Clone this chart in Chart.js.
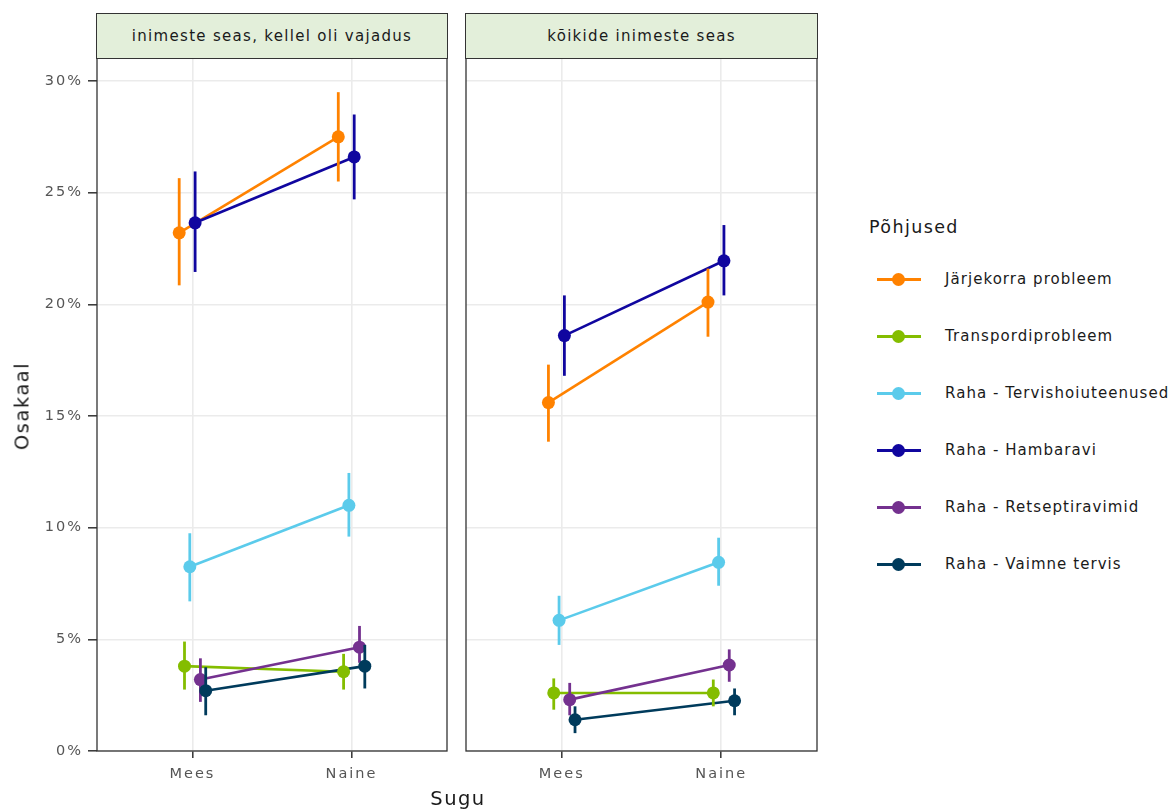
<!DOCTYPE html>
<html>
<head>
<meta charset="utf-8">
<script src="https://cdn.jsdelivr.net/npm/chart.js@4/dist/chart.umd.min.js"></script>
<style>
  html, body { margin:0; padding:0; background:#fff; width:1176px; height:812px; overflow:hidden; font-family:"DejaVu Sans", sans-serif; }
  .abs { position:absolute; }
  .strip { position:absolute; top:13px; height:44px; background:#E3EFDA; border:1px solid #333; box-sizing:content-box;
           display:flex; align-items:center; justify-content:center; font-size:15px; letter-spacing:1.3px; color:#1a1a1a; }
  .legTitle { position:absolute; left:869px; top:217px; font-size:17.5px; letter-spacing:1.4px; color:#1a1a1a; }
  .legItem { position:absolute; left:877px; height:20px; }
  .legItem .ln { position:absolute; left:0; top:8px; width:44px; height:3px; }
  .legItem .dt { position:absolute; left:15px; top:3px; width:13px; height:13px; border-radius:50%; }
  .legItem .tx { position:absolute; left:68px; top:0px; white-space:nowrap; font-size:15px; letter-spacing:1.05px; color:#1a1a1a; }
</style>
</head>
<body>
<div class="abs" id="c1wrap" style="left:0px; top:57px; width:449px; height:755px;"><canvas id="c1"></canvas></div>
<div class="abs" id="c2wrap" style="left:465px; top:57px; width:354px; height:755px;"><canvas id="c2"></canvas></div>
<div id="strips"></div>
<div class="abs" style="left:22px; top:406px; transform:translate(-50%,-50%) rotate(-90deg); font-size:19.5px; letter-spacing:1.5px; color:#1a1a1a; white-space:nowrap;">Osakaal</div>
<div class="abs" style="left:458px; top:787px; transform:translateX(-50%); font-size:19.5px; letter-spacing:1.5px; color:#1a1a1a; white-space:nowrap;">Sugu</div>
<div id="legend"></div>
<script>
// ---- DATA ----
const categories = ['Mees', 'Naine'];
const panelTitles = ['inimeste seas, kellel oli vajadus', 'kõikide inimeste seas'];
const legendTitle = 'Põhjused';
const seriesNames = ['Järjekorra probleem', 'Transpordiprobleem', 'Raha - Tervishoiuteenused', 'Raha - Hambaravi', 'Raha - Retseptiravimid', 'Raha - Vaimne tervis'];
const seriesColors = ['#FF8200', '#84BD00', '#5BCBEB', '#10069F', '#74318F', '#003B5C'];
const yTicks = [0, 5, 10, 15, 20, 25, 30];

// panel 1: inimeste seas, kellel oli vajadus  (rows = series, cols = Mees, Naine)
const estVajadus = [[23.2, 27.5], [3.8, 3.55], [8.25, 11.0], [23.65, 26.6], [3.2, 4.65], [2.7, 3.8]];
const loVajadus  = [[20.85, 25.5], [2.75, 2.75], [6.7, 9.6], [21.45, 24.7], [2.2, 3.95], [1.6, 2.8]];
const hiVajadus  = [[25.65, 29.5], [4.9, 4.35], [9.75, 12.45], [25.95, 28.5], [4.15, 5.6], [3.75, 4.75]];

// panel 2: kõikide inimeste seas
const estKoik = [[15.6, 20.1], [2.6, 2.6], [5.85, 8.45], [18.6, 21.95], [2.3, 3.85], [1.4, 2.25]];
const loKoik  = [[13.85, 18.55], [1.85, 2.0], [4.75, 7.4], [16.8, 20.4], [1.6, 3.1], [0.8, 1.6]];
const hiKoik  = [[17.3, 21.6], [3.25, 3.2], [6.95, 9.55], [20.4, 23.55], [3.05, 4.55], [2.0, 2.8]];

// ---- LAYOUT / STYLE ----
const DODGE = 0.2;
const YMAX = 31.03;
const gridColor = '#EBEBEB';
const frameColor = '#333333';
const tickColor = '#555555';
const fontFam = '"DejaVu Sans", sans-serif';

function dodgeX(catIdx, sIdx) {
  const n = seriesNames.length;
  return (catIdx + 1) + (sIdx - (n - 1) / 2) * (DODGE / n);
}

const spacingPlugin = {
  id: 'spacing',
  beforeInit(chart) { chart.ctx.letterSpacing = '2px'; },
  beforeUpdate(chart) { chart.ctx.letterSpacing = '2px'; },
  beforeDraw(chart) { chart.ctx.letterSpacing = '2px'; }
};

const framePlugin = {
  id: 'frame',
  afterDraw(chart) {
    const a = chart.chartArea, ctx = chart.ctx;
    ctx.save();
    ctx.strokeStyle = frameColor;
    ctx.lineWidth = 1.3;
    ctx.strokeRect(a.left, a.top, a.right - a.left, a.bottom - a.top);
    ctx.restore();
  }
};

const errPlugin = {
  id: 'errbars',
  beforeDatasetDraw(chart, args) {
    const ds = chart.data.datasets[args.index];
    if (!ds._err) return;
    const xs = chart.scales.x, ys = chart.scales.y, ctx = chart.ctx;
    ctx.save();
    ctx.strokeStyle = ds.borderColor;
    ctx.lineWidth = 2.8;
    ctx.lineCap = 'butt';
    ds.data.forEach((p, i) => {
      const x = xs.getPixelForValue(p.x);
      ctx.beginPath();
      ctx.moveTo(x, ys.getPixelForValue(ds._err.lo[i]));
      ctx.lineTo(x, ys.getPixelForValue(ds._err.hi[i]));
      ctx.stroke();
    });
    ctx.restore();
  }
};

function makeDatasets(est, lo, hi) {
  const lines = [], pts = [];
  seriesNames.forEach((name, s) => {
    const data = categories.map((c, ci) => ({ x: dodgeX(ci, s), y: est[s][ci] }));
    lines.push({
      label: name, data, showLine: true, borderColor: seriesColors[s], backgroundColor: seriesColors[s],
      borderWidth: 2.6, pointRadius: 0, order: 100 - s
    });
    pts.push({
      label: name, data, showLine: false, borderColor: seriesColors[s], backgroundColor: seriesColors[s],
      pointRadius: 6.5, pointBorderWidth: 0, pointHoverRadius: 6.5, order: 50 - s,
      _err: { lo: lo[s], hi: hi[s] }
    });
  });
  return lines.concat(pts);
}

function zeroPad(scale) {
  scale.paddingTop = 0; scale.paddingBottom = 0; scale.paddingLeft = 0; scale.paddingRight = 0;
}

function makeChart(id, est, lo, hi, showY) {
  return new Chart(document.getElementById(id), {
    type: 'scatter',
    data: { datasets: makeDatasets(est, lo, hi) },
    options: {
      responsive: true, maintainAspectRatio: false, animation: false,
      layout: { autoPadding: false, padding: { top: 1, right: 2, left: showY ? 0 : 1, bottom: 0 } },
      plugins: { legend: { display: false }, tooltip: { enabled: false } },
      events: [],
      scales: {
        x: {
          type: 'linear', min: 0.4, max: 2.6,
          afterBuildTicks(scale) { scale.ticks = categories.map((c, i) => ({ value: i + 1 })); },
          afterFit(scale) { scale.height = 61; zeroPad(scale); },
          ticks: {
            callback: (v) => categories[Math.round(v) - 1] || '',
            color: tickColor, font: { family: fontFam, size: 14.5 }, padding: 8, maxRotation: 0
          },
          grid: { color: gridColor, lineWidth: 1.6, tickColor: frameColor, tickLength: 7, tickWidth: 1.5 },
          border: { display: false }
        },
        y: {
          type: 'linear', min: 0, max: YMAX,
          afterBuildTicks(scale) { scale.ticks = yTicks.map(v => ({ value: v })); },
          afterFit(scale) { scale.width = showY ? 97 : 0; zeroPad(scale); },
          ticks: {
            display: showY,
            callback: (v) => v + '%',
            color: tickColor, font: { family: fontFam, size: 14.5 }, padding: 5
          },
          grid: { color: gridColor, lineWidth: 1.6, drawTicks: showY, tickColor: frameColor, tickLength: 9, tickWidth: 1.5 },
          border: { display: false }
        }
      }
    },
    plugins: [spacingPlugin, errPlugin, framePlugin]
  });
}

makeChart('c1', estVajadus, loVajadus, hiVajadus, true);
makeChart('c2', estKoik, loKoik, hiKoik, false);

// strips
const stripPos = [[97, 350], [466, 351]];
const stripsEl = document.getElementById('strips');
panelTitles.forEach((t, i) => {
  const d = document.createElement('div');
  d.className = 'strip';
  d.style.left = (stripPos[i][0] - 1) + 'px';
  d.style.width = stripPos[i][1] + 'px';
  d.textContent = t;
  stripsEl.appendChild(d);
});

// legend
const legEl = document.getElementById('legend');
const lt = document.createElement('div');
lt.className = 'legTitle'; lt.textContent = legendTitle; legEl.appendChild(lt);
seriesNames.forEach((n, i) => {
  const it = document.createElement('div');
  it.className = 'legItem';
  it.style.top = (270 + i * 57) + 'px';
  it.innerHTML = '<div class="ln"></div><div class="dt"></div><div class="tx"></div>';
  it.querySelector('.ln').style.background = seriesColors[i];
  it.querySelector('.dt').style.background = seriesColors[i];
  it.querySelector('.tx').textContent = n;
  legEl.appendChild(it);
});
</script>
</body>
</html>
